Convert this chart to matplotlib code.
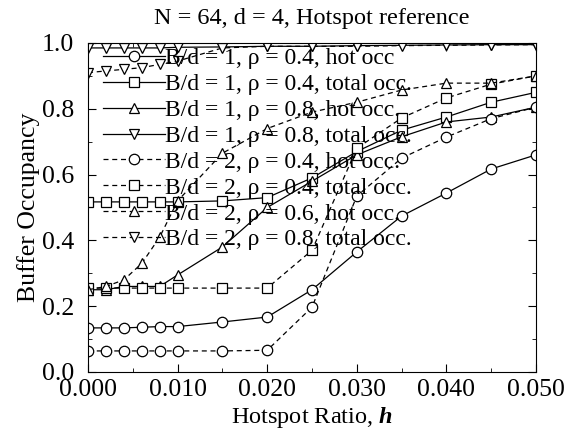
import matplotlib
matplotlib.use("Agg")
import matplotlib.pyplot as plt
from matplotlib.ticker import MultipleLocator, FormatStrFormatter

plt.rcParams['font.family'] = ['Liberation Serif', 'DejaVu Serif']
plt.rcParams['mathtext.fontset'] = 'custom'
plt.rcParams['mathtext.rm'] = 'Liberation Serif'
plt.rcParams['mathtext.bfit'] = 'Liberation Serif:bold:italic'

h = [0.000, 0.002, 0.004, 0.006, 0.008, 0.010, 0.015, 0.020,
     0.025, 0.030, 0.035, 0.040, 0.045, 0.050]

bd1_r04_hot = [0.134, 0.134, 0.134, 0.136, 0.138, 0.138, 0.152, 0.167,
               0.25, 0.365, 0.474, 0.544, 0.617, 0.66]
bd1_r04_total = [0.517, 0.517, 0.517, 0.517, 0.517, 0.517, 0.52, 0.53,
                 0.59, 0.67, 0.735, 0.775, 0.82, 0.85]
bd1_r08_hot = [0.25, 0.25, 0.26, 0.26, 0.26, 0.295, 0.38, 0.50,
               0.58, 0.66, 0.715, 0.76, 0.775, 0.805]
bd1_r08_total = [0.985, 0.985, 0.985, 0.985, 0.985, 0.987, 0.988, 0.99,
                 0.99, 0.992, 0.993, 0.994, 0.995, 0.995]
bd2_r04_hot = [0.064, 0.064, 0.064, 0.064, 0.064, 0.064, 0.064, 0.066,
               0.197, 0.535, 0.65, 0.714, 0.77, 0.805]
bd2_r04_total = [0.255, 0.255, 0.255, 0.255, 0.255, 0.255, 0.255, 0.255,
                 0.37, 0.68, 0.772, 0.833, 0.875, 0.90]
bd2_r06_hot = [0.25, 0.26, 0.28, 0.33, 0.41, 0.52, 0.665, 0.74,
               0.79, 0.82, 0.857, 0.878, 0.878, 0.90]
bd2_r08_total = [0.91, 0.915, 0.92, 0.925, 0.935, 0.945, 0.985, 0.99,
                 0.99, 0.99, 0.992, 0.993, 0.994, 0.995]

labels = [
    "B/d = 1, \u03c1 = 0.4, hot occ",
    "B/d = 1, \u03c1 = 0.4, total occ.",
    "B/d = 1, \u03c1 = 0.8, hot occ.",
    "B/d = 1, \u03c1 = 0.8, total occ.",
    "B/d = 2, \u03c1 = 0.4, hot occ.",
    "B/d = 2, \u03c1 = 0.4, total occ.",
    "B/d = 2, \u03c1 = 0.6, hot occ.",
    "B/d = 2, \u03c1 = 0.8, total occ.",
]
series = [bd1_r04_hot, bd1_r04_total, bd1_r08_hot, bd1_r08_total,
          bd2_r04_hot, bd2_r04_total, bd2_r06_hot, bd2_r08_total]
markers = ['o', 's', '^', 'v', 'o', 's', '^', 'v']
styles = ['-', '-', '-', '-', '--', '--', '--', '--']

fig = plt.figure(figsize=(5.65, 4.41), dpi=100)
ax = fig.add_axes([0.1558, 0.1565, 0.7929, 0.746])

for y, m, ls, lab in zip(series, markers, styles, labels):
    ax.plot(h, y, linestyle=ls, color='black', linewidth=0.9,
            marker=m, markersize=7.5, markerfacecolor='white',
            markeredgecolor='black', markeredgewidth=0.9,
            dashes=(4, 3) if ls == '--' else (None, None), label=lab)

ax.set_xlim(0.0, 0.05)
ax.set_ylim(0.0, 1.0)
ax.xaxis.set_major_locator(MultipleLocator(0.01))
ax.xaxis.set_minor_locator(MultipleLocator(0.005))
ax.yaxis.set_major_locator(MultipleLocator(0.2))
ax.yaxis.set_minor_locator(MultipleLocator(0.1))
ax.xaxis.set_major_formatter(FormatStrFormatter('%.3f'))
ax.yaxis.set_major_formatter(FormatStrFormatter('%.1f'))
ax.tick_params(which='both', direction='in', top=True, right=True,
               labelsize=18.5)
ax.tick_params(axis='x', pad=5)
ax.tick_params(axis='y', pad=10)
ax.tick_params(which='major', length=6)
ax.tick_params(which='minor', length=3)

ax.set_title("N = 64, d = 4, Hotspot reference", fontsize=17.5, pad=14)
ax.set_xlabel("Hotspot Ratio, $\\boldsymbol{h}$", fontsize=17.5, labelpad=3)
ax.set_ylabel("Buffer Occupancy", fontsize=18.5, labelpad=1)

leg = ax.legend(loc='upper left', bbox_to_anchor=(0.033, 0.986), frameon=False,
                fontsize=17, handlelength=2.65, handletextpad=0.0,
                labelspacing=0.185, borderaxespad=0.0, borderpad=0.0)

fig.savefig("out.png", dpi=100)
